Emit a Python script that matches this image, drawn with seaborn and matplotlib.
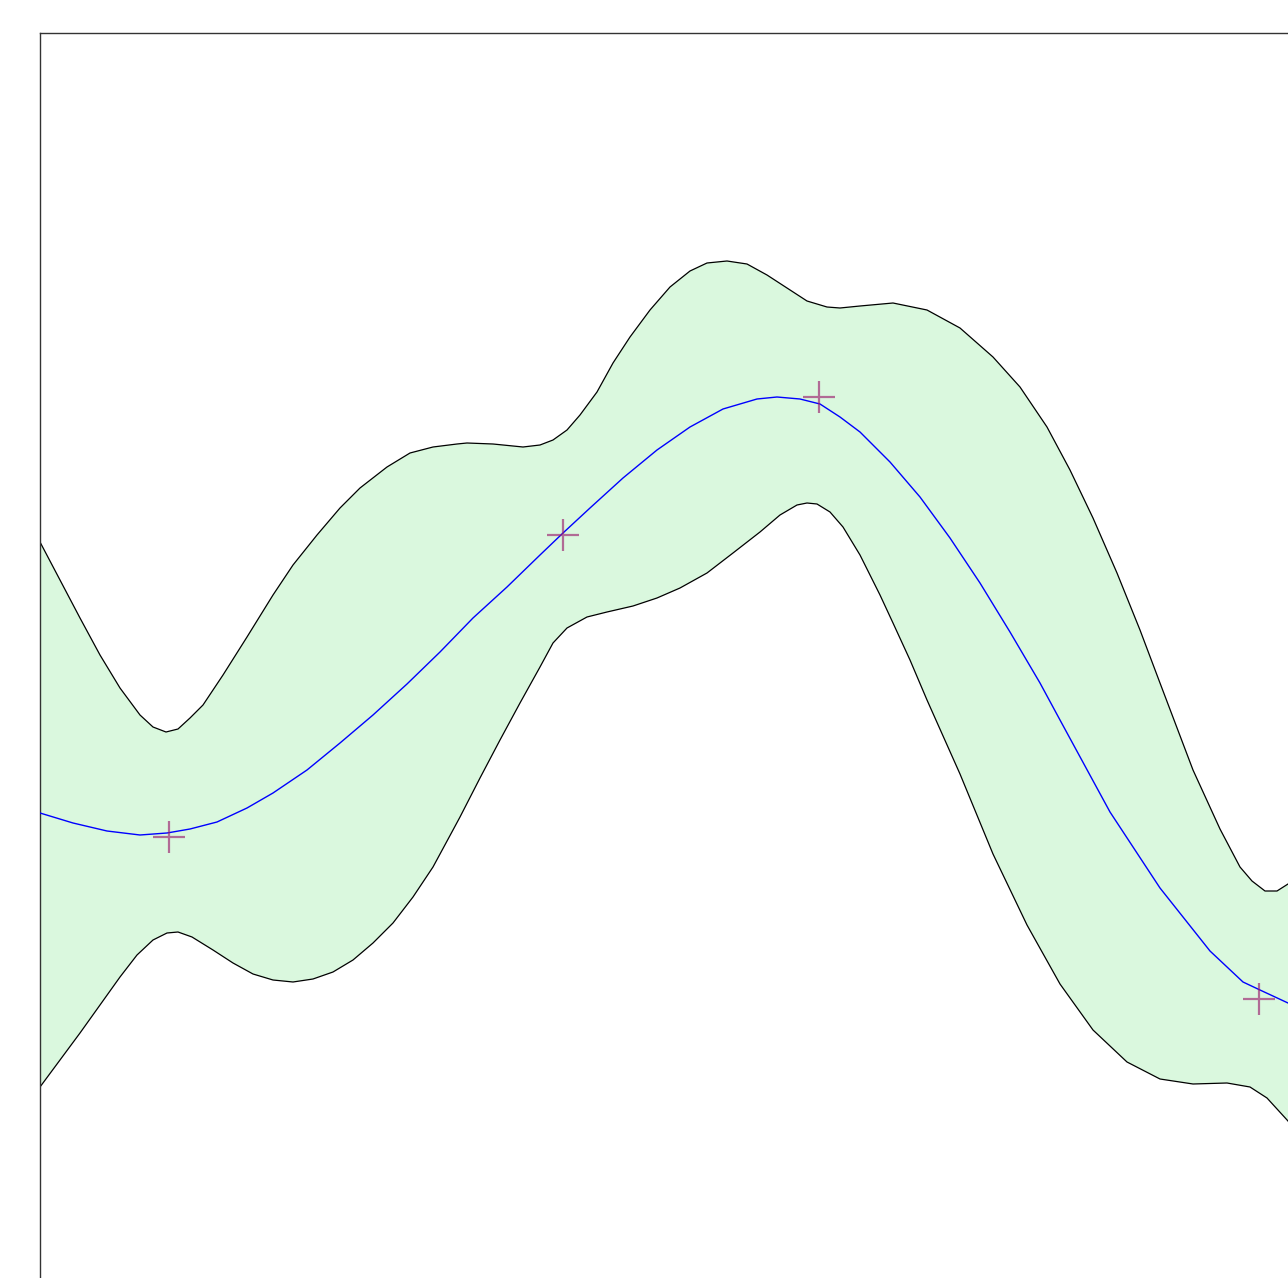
import matplotlib
matplotlib.use("Agg")
import matplotlib.pyplot as plt
import seaborn as sns
import numpy as np
import pandas as pd

# Mean curve
mean_x = [0, 3.3, 6.7, 10, 12.7, 15, 17.7, 20.7, 23.3, 26.7, 30, 33.3, 36.7, 40, 43.3, 46.7,
          50, 52.3, 55, 58.3, 61.7, 65, 68.3, 71.7, 73.7, 76, 78, 80, 82, 85, 88, 91, 94, 97,
          100, 102, 107, 112, 117, 120.3, 122, 124.8, 127]
mean_y = [-1.33, -1.43, -1.51, -1.55, -1.53, -1.49, -1.42, -1.28, -1.13, -0.90, -0.63, -0.35,
          -0.04, 0.28, 0.62, 0.93, 1.25, 1.47, 1.72, 2.02, 2.30, 2.53, 2.71, 2.81, 2.83, 2.81,
          2.76, 2.63, 2.48, 2.18, 1.83, 1.42, 0.97, 0.48, -0.03, -0.40, -1.32, -2.08, -2.71,
          -3.02, -3.10, -3.23, -3.32]

# Upper bound
upper_x = [0, 2, 4, 6, 8, 10, 11.3, 12.6, 13.8, 15, 16.3, 18.3, 20.7, 23.3, 25.3, 27.7, 30,
           32, 34.7, 37, 39.3, 41.7, 42.7, 45.3, 48.3, 50, 51.3, 52.7, 54, 55.7, 57.3, 59, 61,
           63, 65, 66.7, 68.7, 70.7, 72.7, 74.7, 76.7, 78.7, 80, 82, 85.3, 88.7, 92, 95.3, 98,
           100.7, 103, 105.3, 107.7, 110, 112, 115.3, 118, 120, 121.2, 122.5, 123.7, 124.8, 127]
upper_y = [1.38, 1.00, 0.62, 0.25, -0.08, -0.35, -0.47, -0.52, -0.49, -0.38, -0.25, 0.05, 0.43,
           0.85, 1.15, 1.45, 1.72, 1.92, 2.13, 2.27, 2.33, 2.36, 2.37, 2.36, 2.33, 2.35, 2.40,
           2.50, 2.65, 2.88, 3.17, 3.43, 3.70, 3.93, 4.09, 4.17, 4.19, 4.16, 4.05, 3.92, 3.79,
           3.73, 3.72, 3.74, 3.77, 3.70, 3.52, 3.23, 2.93, 2.53, 2.10, 1.62, 1.07, 0.50, -0.03,
           -0.90, -1.49, -1.87, -2.01, -2.11, -2.11, -2.04, -1.90]

# Lower bound
lower_x = [0, 2, 4, 6, 8, 9.7, 11.3, 12.7, 13.8, 15.2, 17.3, 19.3, 21.3, 23.3, 25.3, 27.3, 29.3,
           31.3, 33.3, 35.3, 37.3, 39.3, 41.3, 42, 44, 46, 48, 50, 51.3, 52.7, 54.7, 56.7, 59.3,
           61.7, 64, 66.7, 69.3, 72, 74, 75.7, 76.7, 77.7, 79, 80.3, 82, 84, 85.3, 87, 88.7, 92,
           95.3, 98.7, 102, 105.3, 108.7, 112, 115.3, 118.7, 121, 122.7, 124.8, 127]
lower_y = [-4.07, -3.80, -3.53, -3.25, -2.97, -2.75, -2.60, -2.53, -2.52, -2.57, -2.70, -2.83,
           -2.94, -3.00, -3.02, -2.99, -2.92, -2.80, -2.63, -2.43, -2.17, -1.87, -1.50, -1.37,
           -0.98, -0.60, -0.23, 0.13, 0.37, 0.52, 0.63, 0.68, 0.74, 0.82, 0.92, 1.07, 1.27,
           1.48, 1.65, 1.75, 1.77, 1.76, 1.68, 1.53, 1.25, 0.85, 0.57, 0.20, -0.20, -0.94, -1.74,
           -2.45, -3.04, -3.50, -3.82, -3.99, -4.04, -4.03, -4.07, -4.18, -4.41, -4.75]

# Observations
obs_x = [12.9, 52.3, 77.9, 121.9]
obs_y = [-1.57, 1.45, 2.83, -3.19]

fig = plt.figure(figsize=(12.88, 12.78), dpi=100)
ax = fig.add_axes([40 / 1288, 1 - 1320 / 1278, 1290 / 1288, 1287 / 1278])

poly_x = upper_x + lower_x[::-1]
poly_y = upper_y + lower_y[::-1]
ax.fill(poly_x, poly_y, color="#daf8de", lw=0, zorder=1)

sns.lineplot(x=upper_x, y=upper_y, ax=ax, color="black", lw=0.9, zorder=2)
sns.lineplot(x=lower_x, y=lower_y, ax=ax, color="black", lw=0.9, zorder=2)
sns.lineplot(x=mean_x, y=mean_y, ax=ax, color="#0000ff", lw=1.0, zorder=3)
sns.scatterplot(x=obs_x, y=obs_y, ax=ax, marker="+", s=23 ** 2, color="#9b1f6e",
                alpha=0.65, linewidth=1.6, zorder=4)

ax.set_xlim(0, 129)
ax.set_ylim(-6.4, 6.47)
ax.set_xticks([])
ax.set_yticks([])
for s in ax.spines.values():
    s.set_color("#333333")
    s.set_linewidth(1.0)

fig.savefig("out.png", dpi=100)
